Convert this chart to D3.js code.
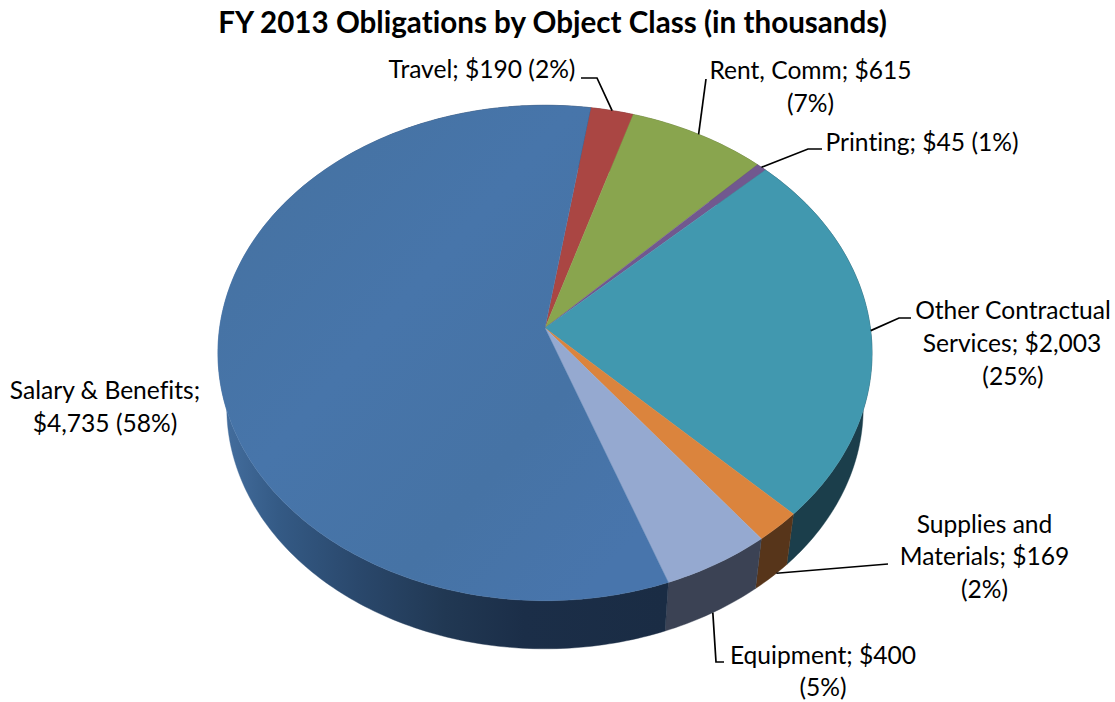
<!DOCTYPE html>
<html>
<head>
<meta charset="utf-8">
<script src="https://cdn.jsdelivr.net/npm/d3@7"></script>
<style>
  html, body { margin: 0; padding: 0; background: #fff; }
  svg { display: block; }
  text { font-family: Lato, "Noto Sans", sans-serif; fill: #000; font-variant-ligatures: none; }
</style>
</head>
<body>
<svg id="chart" width="1115" height="702"></svg>
<script>
// FY 2013 obligations, in thousands of dollars, in drawing order round the pie
const categories = ["Travel", "Rent, Comm", "Printing", "Other Contractual Services", "Supplies and Materials", "Equipment", "Salary & Benefits"];
const amounts = [190, 615, 45, 2003, 169, 400, 4735];
const percentLabels = ["2%", "7%", "1%", "25%", "2%", "5%", "58%"];
const faceColors = ["#aa4643", "#89a54e", "#71588f", "#4198af", "#db843d", "#95a9d0", "#4774aa"];
const wallColors = ["#6b2c2a", "#566731", "#47375a", "#1b3e4b", "#57351a", "#3b4254", "url(#salaryWall)"];
const titleText = "FY 2013 Obligations by Object Class (in thousands)";

const svg = d3.select("#chart");
const deg = Math.PI / 180;

// The disc is seen in perspective: the apex sits above the middle of the rim ellipse
const apex = { x: 545, y: 328 };
const radiusX = 325.4, radiusY = 245.2, depthK = -0.1008;
const wallScale = 0.973, wallDrop = 55.5;

function projectTop(a) {
  const u = Math.sin(a), v = -Math.cos(a), w = 1 + depthK * v;
  return [apex.x + radiusX * u / w, apex.y + radiusY * v / w];
}
function projectBottom(a) {
  const [x, y] = projectTop(a);
  return [apex.x + (x - apex.x) * wallScale, apex.y + wallDrop + (y - apex.y) * wallScale];
}

const slices = d3.pie().sort(null).value(d => d)
  .startAngle(8.9 * deg).endAngle(368.9 * deg)(amounts);

const line = d3.line();
const sweep = (s, f) => d3.range(0, 1.0001, 1 / Math.max(4, Math.ceil((s.endAngle - s.startAngle) * 60)))
  .map(t => f(s.startAngle + t * (s.endAngle - s.startAngle)));

// Gradient running along the long front wall of the largest slice
const defs = svg.append("defs");
const wallGrad = defs.append("linearGradient").attr("id", "salaryWall")
  .attr("gradientUnits", "userSpaceOnUse").attr("x1", 226).attr("x2", 664).attr("y1", 0).attr("y2", 0);
[[0, "#436d9d"], [0.12, "#345a85"], [0.3, "#2a486c"], [0.5, "#213853"], [0.68, "#1b2e48"], [1, "#1a2c44"]]
  .forEach(([o, c]) => wallGrad.append("stop").attr("offset", o).attr("stop-color", c));
const faceGrad = defs.append("linearGradient").attr("id", "salaryFace")
  .attr("gradientUnits", "userSpaceOnUse").attr("x1", 217).attr("x2", 667).attr("y1", 105).attr("y2", 500);
[[0, "#45719f"], [0.45, "#4775aa"], [0.75, "#4673a5"], [1, "#4875ac"]]
  .forEach(([o, c]) => faceGrad.append("stop").attr("offset", o).attr("stop-color", c));

// Outer walls first, the top faces then cover everything but the front
svg.append("g").selectAll("path").data(slices).join("path")
  .attr("d", s => line([...sweep(s, projectTop), ...sweep(s, projectBottom).reverse()]) + "Z")
  .attr("fill", (s, i) => wallColors[i])
  .attr("stroke", (s, i) => wallColors[i]).attr("stroke-width", 0.4);

svg.append("g").selectAll("path").data(slices).join("path")
  .attr("d", s => line([[apex.x, apex.y], ...sweep(s, projectTop)]) + "Z")
  .attr("fill", (s, i) => i === 6 ? "url(#salaryFace)" : faceColors[i])
  .attr("stroke", (s, i) => i === 6 ? "#4774aa" : faceColors[i]).attr("stroke-width", 0.4);

// Leader lines start on the rim at each slice's middle angle
const leaderBends = [
  { from: projectTop, t: 0.5, pts: [[597, 78], [581, 78]] },
  { from: projectTop, t: 0.5, pts: [[706, 79]] },
  { from: projectTop, t: 0.5, pts: [[808, 149], [822, 149]] },
  { from: projectTop, t: 0.5, pts: [[899, 318], [911, 318]] },
  { from: projectBottom, t: 0.35, pts: [[888, 564]] },
  { from: projectBottom, t: 0.5, pts: [[716, 662], [724, 662]] }
];
svg.append("g").selectAll("path").data(leaderBends).join("path")
  .attr("d", (b, i) => {
    const s = slices[i];
    return line([b.from(s.startAngle + b.t * (s.endAngle - s.startAngle)), ...b.pts]);
  })
  .attr("fill", "none").attr("stroke", "#000").attr("stroke-width", 1.7);

const money = v => "$" + d3.format(",")(v);
const tail = i => `${money(amounts[i])} (${percentLabels[i]})`;

const labelLines = [
  { x: 482, y: 78, t: `${categories[0]}; ${tail(0)}` },
  { x: 810.5, y: 79, t: `${categories[1]}; ${money(amounts[1])}` },
  { x: 810.5, y: 112, t: `(${percentLabels[1]})` },
  { x: 922, y: 151, t: `${categories[2]}; ${tail(2)}` },
  { x: 1013, y: 319, t: "Other Contractual" },
  { x: 1012, y: 352, t: `Services; ${money(amounts[3])}` },
  { x: 1013, y: 385, t: `(${percentLabels[3]})` },
  { x: 984.5, y: 533, t: "Supplies and" },
  { x: 984.5, y: 565, t: `Materials; ${money(amounts[4])}` },
  { x: 984.5, y: 598, t: `(${percentLabels[4]})` },
  { x: 823, y: 664, t: `${categories[5]}; ${money(amounts[5])}` },
  { x: 823, y: 696, t: `(${percentLabels[5]})` },
  { x: 105, y: 399, t: `${categories[6]};` },
  { x: 105, y: 432, t: tail(6) }
];

svg.append("g").selectAll("text").data(labelLines).join("text")
  .attr("x", d => d.x).attr("y", d => d.y)
  .attr("text-anchor", "middle").attr("font-size", 24.6)
  .text(d => d.t);

svg.append("text")
  .attr("x", 552.5).attr("y", 33)
  .attr("text-anchor", "middle").attr("font-size", 29.6).attr("font-weight", 700)
  .text(titleText);
</script>
</body>
</html>
